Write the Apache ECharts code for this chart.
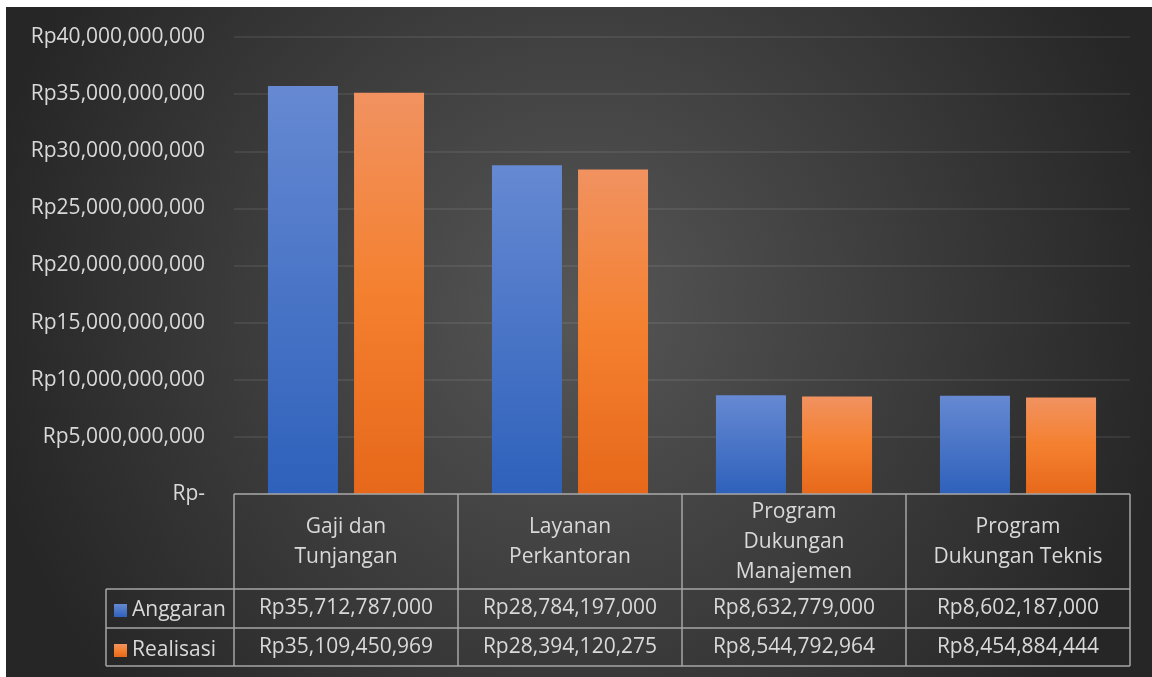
<!DOCTYPE html>
<html>
<head>
<meta charset="utf-8">
<script src="https://cdn.jsdelivr.net/npm/echarts@6/dist/echarts.min.js"></script>
<style>
  html, body { margin: 0; padding: 0; background: #ffffff; width: 1152px; height: 677px; overflow: hidden; }
  #chart { position: absolute; left: 6px; top: 7px; width: 1146px; height: 670px; }
</style>
</head>
<body>
<div id="chart"></div>
<script>
const categories = ['Gaji dan\nTunjangan', 'Layanan\nPerkantoran', 'Program\nDukungan\nManajemen', 'Program\nDukungan Teknis'];
const seriesNames = ['Anggaran', 'Realisasi'];
const anggaran = [35712787000, 28784197000, 8632779000, 8602187000];
const realisasi = [35109450969, 28394120275, 8544792964, 8454884444];
const yTicks = [0, 5e9, 10e9, 15e9, 20e9, 25e9, 30e9, 35e9, 40e9];

const FONT = 'Open Sans';
const TXT = '#d9d9d9';
const LINE = '#a6a6a6';
const FS = 21;

function rp(v) {
  if (v === 0) return 'Rp-';
  return 'Rp' + Math.round(v).toLocaleString('en-US');
}

const blueGrad = new echarts.graphic.LinearGradient(0, 0, 0, 1, [
  { offset: 0, color: '#6689d2' }, { offset: 1, color: '#2e61bb' }
]);
const orangeGrad = new echarts.graphic.LinearGradient(0, 0, 0, 1, [
  { offset: 0, color: '#f19260' }, { offset: 0.5, color: '#f4802f' }, { offset: 1, color: '#e7681a' }
]);

const chart = echarts.init(document.getElementById('chart'), null, { renderer: 'canvas' });

const option = {
  animation: false,
  backgroundColor: {
    type: 'radial', x: 0.5, y: 0.45, r: 0.9,
    colorStops: [{ offset: 0, color: '#565656' }, { offset: 1, color: '#262626' }]
  },
  textStyle: { fontFamily: FONT },
  grid: { left: 228, right: 22, top: 30, bottom: 183, containLabel: false },
  legend: {
    orient: 'vertical', left: 103, top: 588,
    itemWidth: 13, itemHeight: 13, itemGap: 19,
    icon: 'rect',
    textStyle: { color: TXT, fontSize: FS, fontFamily: FONT, lineHeight: 20 },
    data: seriesNames
  },
  xAxis: [
    {
      type: 'category', data: categories, position: 'bottom',
      axisLine: { show: false }, axisTick: { show: false },
      axisLabel: { interval: 0, margin: 48, color: TXT, fontSize: FS, lineHeight: 30, verticalAlign: 'middle', fontFamily: FONT }
    },
    {
      type: 'category', data: categories, position: 'bottom', offset: 0,
      axisLine: { show: false }, axisTick: { show: false },
      axisLabel: { interval: 0, margin: 114, color: TXT, fontSize: FS, verticalAlign: 'middle', fontFamily: FONT,
        formatter: (v, i) => rp(anggaran[i]) }
    },
    {
      type: 'category', data: categories, position: 'bottom', offset: 0,
      axisLine: { show: false }, axisTick: { show: false },
      axisLabel: { interval: 0, margin: 153, color: TXT, fontSize: FS, verticalAlign: 'middle', fontFamily: FONT,
        formatter: (v, i) => rp(realisasi[i]) }
    }
  ],
  yAxis: {
    type: 'value', min: yTicks[0], max: yTicks[yTicks.length - 1], interval: yTicks[1] - yTicks[0],
    axisLine: { show: false }, axisTick: { show: false },
    axisLabel: { color: TXT, fontSize: FS, margin: 29, fontFamily: FONT, formatter: rp },
    splitLine: { lineStyle: { color: 'rgba(255,255,255,0.1)', width: 1.5 } }
  },
  series: [
    {
      name: seriesNames[0], type: 'bar', data: anggaran, xAxisIndex: 0,
      barWidth: 70, barGap: '23%',
      itemStyle: { color: blueGrad, shadowBlur: 8, shadowColor: 'rgba(0,0,0,0.45)', shadowOffsetX: 2, shadowOffsetY: 2 }
    },
    {
      name: seriesNames[1], type: 'bar', data: realisasi, xAxisIndex: 0,
      barWidth: 70, barGap: '23%',
      itemStyle: { color: orangeGrad, shadowBlur: 8, shadowColor: 'rgba(0,0,0,0.45)', shadowOffsetX: 2, shadowOffsetY: 2 }
    }
  ]
};
chart.setOption(option);

// Data table lines derived from the category axis positions
const c0 = chart.convertToPixel({ xAxisIndex: 0 }, 0);
const c1 = chart.convertToPixel({ xAxisIndex: 0 }, 1);
const band = c1 - c0;
const bounds = [];
for (let k = 0; k <= categories.length; k++) bounds.push(c0 - band / 2 + k * band);
const y0 = chart.convertToPixel({ yAxisIndex: 0 }, 0);
const rowH = [95, 39, 38];
const y1 = y0 + rowH[0], y2 = y1 + rowH[1], y3 = y2 + rowH[2];
const legendLeft = 100;
const ls = { stroke: LINE, lineWidth: 1.5 };
const lines = [];
function L(x1, ya, x2, yb) { lines.push({ type: 'line', z: 100, shape: { x1: x1, y1: ya, x2: x2, y2: yb }, style: ls, silent: true }); }
L(bounds[0], y0, bounds[bounds.length - 1], y0);
[y1, y2, y3].forEach(y => L(legendLeft, y, bounds[bounds.length - 1], y));
bounds.forEach(x => L(x, y0, x, y3));
L(legendLeft, y1, legendLeft, y3);
chart.setOption({ graphic: lines });
</script>
</body>
</html>
